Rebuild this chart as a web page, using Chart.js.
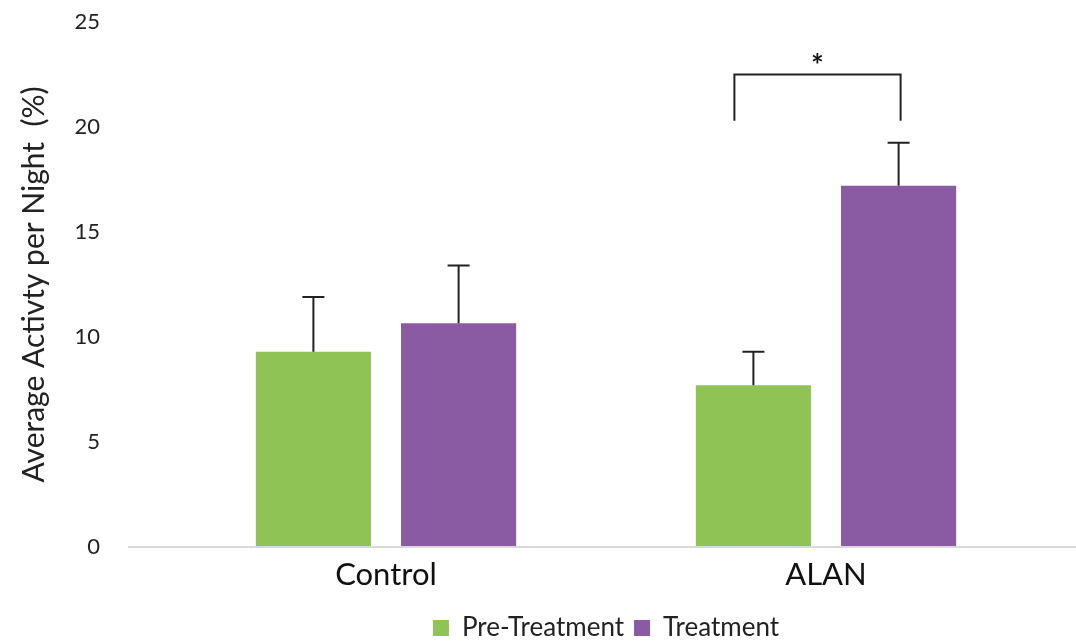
<!DOCTYPE html>
<html><head><meta charset="utf-8">
<script src="https://cdn.jsdelivr.net/npm/chart.js@4"></script>
<style>html,body{margin:0;padding:0;background:#fff}#wrap{width:1076px;height:641px}</style>
</head><body><div id="wrap"><canvas id="c" width="1076" height="641"></canvas></div>
<script>
const categories = ["Control", "ALAN"];
const seriesNames = ["Pre-Treatment", "Treatment"];
const preValues = [9.3, 7.7];
const treatValues = [10.65, 17.2];
const preErrTop = [11.9, 9.3];
const treatErrTop = [13.4, 19.25];
const yTicks = [0, 5, 10, 15, 20, 25];
const sigBracket = { top: 22.5, legs: 20.3, label: "*" };

const FONT = "Lato, 'Open Sans', sans-serif";
const errs = [preErrTop, treatErrTop];

const extras = {
  id: 'extras',
  afterDatasetsDraw(chart) {
    const ctx = chart.ctx, y = chart.scales.y;
    ctx.save();
    ctx.strokeStyle = '#d9d9d9'; ctx.lineWidth = 2;
    const y0 = y.getPixelForValue(0);
    ctx.beginPath(); ctx.moveTo(128, y0); ctx.lineTo(1076, y0); ctx.stroke();
    ctx.strokeStyle = '#222'; ctx.lineWidth = 2;
    chart.data.datasets.forEach((ds, di) => {
      chart.getDatasetMeta(di).data.forEach((bar, i) => {
        const yt = y.getPixelForValue(errs[di][i]);
        ctx.beginPath(); ctx.moveTo(bar.x, bar.y); ctx.lineTo(bar.x, yt);
        ctx.moveTo(bar.x - 11, yt); ctx.lineTo(bar.x + 11, yt); ctx.stroke();
      });
    });
    const b0 = chart.getDatasetMeta(0).data[1], b1 = chart.getDatasetMeta(1).data[1];
    const x0 = b0.x - 19, x1 = b1.x + 2;
    const yt = y.getPixelForValue(sigBracket.top), yl = y.getPixelForValue(sigBracket.legs);
    ctx.beginPath(); ctx.moveTo(x0, yl); ctx.lineTo(x0, yt); ctx.lineTo(x1, yt); ctx.lineTo(x1, yl); ctx.stroke();
    ctx.fillStyle = '#111'; ctx.font = 'bold 30px ' + FONT; ctx.textAlign = 'center'; ctx.textBaseline = 'middle';
    ctx.fillText(sigBracket.label, (x0 + x1) / 2, yt - 8);
    ctx.restore();
  }
};

new Chart(document.getElementById('c'), {
  type: 'bar',
  data: {
    labels: categories,
    datasets: [
      { label: seriesNames[0], data: preValues, backgroundColor: '#8fc355' },
      { label: seriesNames[1], data: treatValues, backgroundColor: '#8a5aa2' }
    ]
  },
  options: {
    responsive: false, animation: false,
    categoryPercentage: 0.66, barPercentage: 0.793,
    layout: { padding: { top: 22, right: 30, left: 0, bottom: -10 } },
    plugins: {
      tooltip: { enabled: false },
      legend: {
        position: 'bottom', fullSize: false,
        labels: { font: { family: FONT, size: 26 }, color: '#222', boxWidth: 16, boxHeight: 16, padding: 10 }
      }
    },
    scales: {
      x: {
        afterFit(s) { s.height = 58; },
        grid: { display: false }, border: { display: false },
        ticks: { font: { family: FONT, size: 31 }, color: '#111', padding: 1 }
      },
      y: {
        min: 0, max: 25,
        afterBuildTicks(s) { s.ticks = yTicks.map(v => ({ value: v })); },
        afterFit(s) { s.width = 166; },
        grid: { display: true, drawOnChartArea: false, drawTicks: true, tickLength: 58, color: 'rgba(0,0,0,0)' },
        border: { display: false },
        ticks: { font: { family: FONT, size: 22 }, color: '#222', padding: 8 },
        title: { display: true, text: 'Average Activty per Night  (%)', font: { family: FONT, size: 30 }, color: '#222', padding: { top: 16, bottom: 4 } }
      }
    }
  },
  plugins: [extras]
});
</script></body></html>
